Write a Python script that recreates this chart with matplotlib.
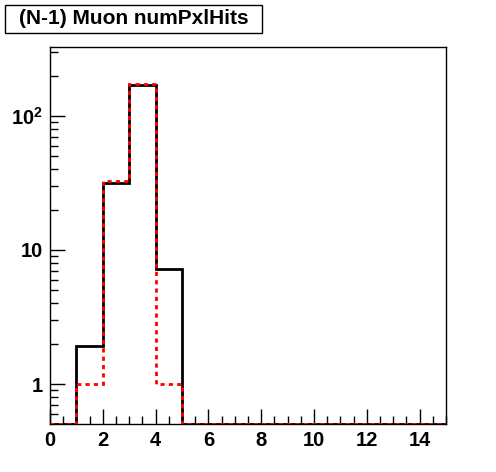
import numpy as np
import matplotlib
matplotlib.use("Agg")
import matplotlib.pyplot as plt
from matplotlib.patches import Rectangle
from matplotlib.ticker import FixedLocator, MultipleLocator, NullFormatter

edges = np.arange(0, 16, 1)
black_vals = [0, 1.92, 31.5, 170, 7.2, 0, 0, 0, 0, 0, 0, 0, 0, 0, 0]
red_vals = [0, 1.0, 32.9, 173, 1.0, 0, 0, 0, 0, 0, 0, 0, 0, 0, 0]
title = "(N-1) Muon numPxlHits"
ymin, ymax = 0.503, 327

plt.rcParams["mathtext.fontset"] = "custom"
plt.rcParams["mathtext.bf"] = "Liberation Sans:bold"
plt.rcParams["mathtext.rm"] = "Liberation Sans"

W, H = 496, 472
fig = plt.figure(figsize=(W / 100, H / 100), dpi=100)
ax = fig.add_axes([50 / W, 1 - 424 / H, 396 / W, 377 / H])
ax.set_yscale("log")
ax.set_xlim(0, 15)
ax.set_ylim(ymin, ymax)

def floor(v):
    v = np.asarray(v, dtype=float)
    return np.where(v > 0, v, ymin)

bv = floor(black_vals)
rv = floor(red_vals)
ax.stairs(bv, edges, baseline=None, color="black", lw=2.0, zorder=3)
ax.stairs(rv, edges, baseline=None, color="red", lw=2.0, ls=(0, (1.5, 1.5)), zorder=4)

font = "Liberation Sans"
ax.xaxis.set_major_locator(MultipleLocator(2))
ax.xaxis.set_minor_locator(MultipleLocator(0.5))
ax.yaxis.set_major_locator(FixedLocator([1, 10, 100]))
ax.yaxis.set_minor_locator(FixedLocator([m * 10 ** e for e in range(-1, 3) for m in range(2, 10)]))
ax.yaxis.set_minor_formatter(NullFormatter())
ax.set_yticklabels(["1", "10", r"$\mathbf{10^{2}}$"])
ax.tick_params(which="both", direction="in", top=False, right=False, width=1)
ax.tick_params(which="major", length=11)
ax.tick_params(which="minor", length=6)
ax.tick_params(axis="x", pad=5)
ax.tick_params(axis="y", pad=5)
for lab in ax.get_xticklabels() + ax.get_yticklabels():
    lab.set_fontfamily(font)
    lab.set_fontweight("bold")
    lab.set_fontsize(14.5)
for s in ax.spines.values():
    s.set_linewidth(1.0)

fig.add_artist(Rectangle((5 / W, 1 - 33 / H), 257 / W, 28 / H, transform=fig.transFigure,
                         fill=False, edgecolor="black", lw=1.0))
fig.text(134 / W, 1 - 19 / H, title, ha="center", va="center", fontfamily=font,
         fontweight="bold", fontsize=15)

fig.savefig("out.png", dpi=100)
